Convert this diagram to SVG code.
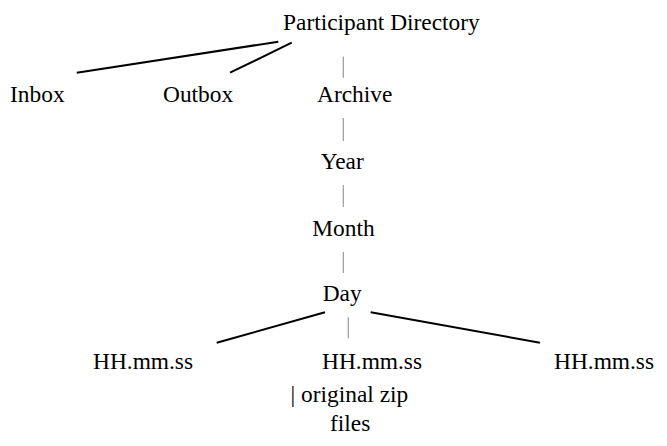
<svg xmlns="http://www.w3.org/2000/svg" width="667" height="446" viewBox="0 0 667 446">
<style>
  text { font-family: "Liberation Serif", "Times New Roman", serif; font-size: 23.4px; fill: #000; }
  .edge { stroke: #000; stroke-width: 2; fill: none; stroke-linecap: butt; }
  .vert { stroke: #999; stroke-width: 1.2; fill: none; }
</style>
<rect width="667" height="446" fill="#fff"/>
<g id="connectors">
  <line class="edge" x1="76.7" y1="72.7" x2="278.3" y2="41.7"/>
  <line class="edge" x1="230" y1="72.7" x2="291.7" y2="42.7"/>
  <line class="vert" x1="343.3" y1="56.5" x2="343.3" y2="77.7"/>
  <line class="vert" x1="343.3" y1="118" x2="343.3" y2="141"/>
  <line class="vert" x1="343.3" y1="185" x2="343.3" y2="207"/>
  <line class="vert" x1="343.3" y1="252" x2="343.3" y2="273"/>
  <line class="edge" x1="216.7" y1="342.7" x2="325" y2="312.3"/>
  <line class="vert" x1="348.3" y1="317.3" x2="348.3" y2="338.3"/>
  <line class="edge" x1="370.7" y1="312.3" x2="540" y2="342.7"/>
</g>
<g id="node-participant-directory"><text x="283" y="30">Participant Directory</text></g>
<g id="node-inbox"><text x="10" y="102">Inbox</text></g>
<g id="node-outbox"><text x="163" y="102">Outbox</text></g>
<g id="node-archive"><text x="317" y="102">Archive</text></g>
<g id="node-year"><text x="320.7" y="169.3">Year</text></g>
<g id="node-month"><text x="312.3" y="236">Month</text></g>
<g id="node-day"><text x="322.7" y="301">Day</text></g>
<g id="node-hh-left"><text x="93" y="369">HH.mm.ss</text></g>
<g id="node-hh-mid"><text x="322" y="369">HH.mm.ss</text></g>
<g id="node-hh-right"><text x="554" y="369">HH.mm.ss</text></g>
<g id="node-original-zip">
  <text x="290.5" y="402">| original zip</text>
  <text x="330" y="431">files</text>
</g>
</svg>
